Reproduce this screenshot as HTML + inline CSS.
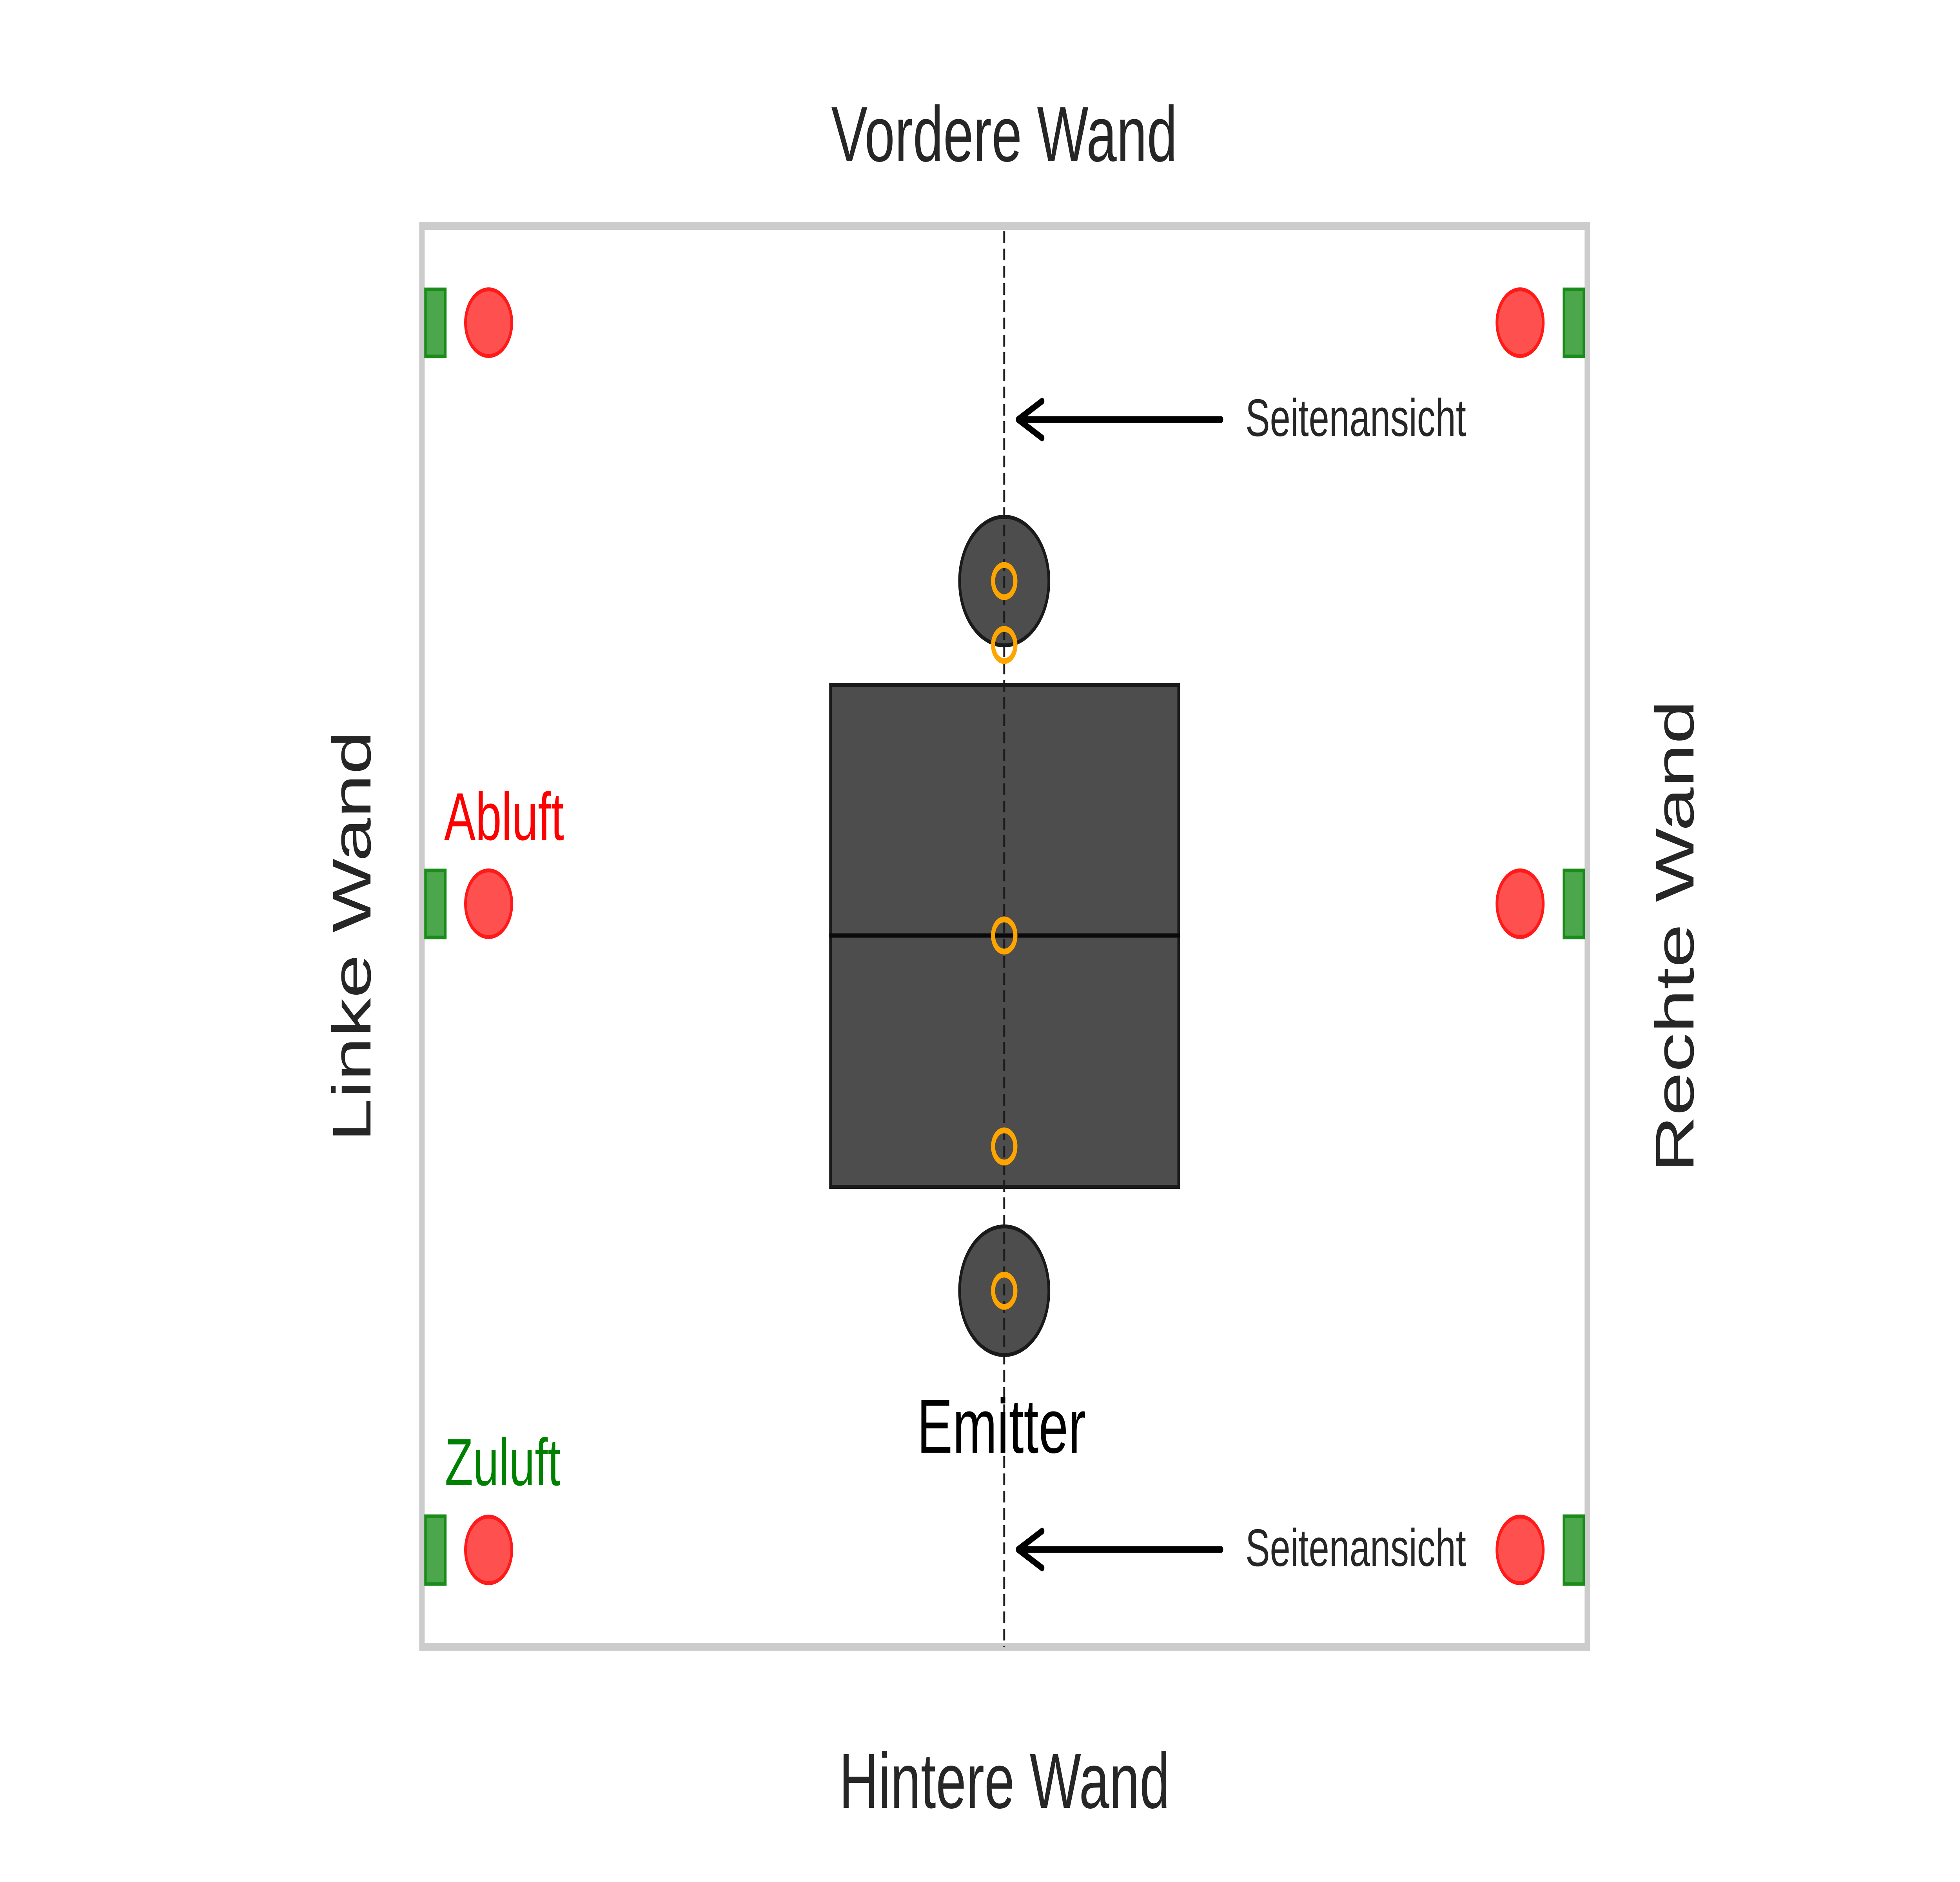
<!DOCTYPE html>
<html><head><meta charset="utf-8"><style>html,body{margin:0;padding:0;background:#fff;overflow:hidden;width:100%;height:100%}svg{display:block;width:100vw;height:100vh}</style></head>
<body>
<svg viewBox="0 0 7200 4800" preserveAspectRatio="none" xmlns="http://www.w3.org/2000/svg" font-family="Liberation Sans, Arial, sans-serif">
<rect x="0" y="0" width="7200" height="4800" fill="#fff"/>
<rect x="1550" y="576" width="4281" height="3624" fill="none" stroke="#cccccc" stroke-width="20"/>

<g fill="#4ca64c" stroke="#1a8c1a" stroke-width="9">
<rect x="1563" y="738" width="73" height="171"/>
<rect x="1563" y="2220" width="73" height="171"/>
<rect x="1563" y="3867" width="73" height="173"/>
<rect x="5745" y="738" width="73" height="171"/>
<rect x="5745" y="2220" width="73" height="171"/>
<rect x="5745" y="3867" width="73" height="173"/>
</g>
<g fill="#ff5050" stroke="#ff1a1a" stroke-width="10">
<circle cx="1795" cy="823" r="85"/>
<circle cx="1795" cy="2305" r="85"/>
<circle cx="1795" cy="3953" r="85"/>
<circle cx="5584" cy="823" r="85"/>
<circle cx="5584" cy="2305" r="85"/>
<circle cx="5584" cy="3953" r="85"/>
</g>

<circle cx="3689" cy="1482" r="164" fill="#4d4d4d" stroke="#1a1a1a" stroke-width="10"/>
<circle cx="3689" cy="3292" r="164" fill="#4d4d4d" stroke="#1a1a1a" stroke-width="10"/>
<rect x="3051" y="1747" width="1279" height="1280" fill="#4d4d4d" stroke="#1a1a1a" stroke-width="10"/>
<line x1="3046" y1="2386" x2="4335" y2="2386" stroke="#0a0a0a" stroke-width="11"/>

<line x1="3689" y1="590" x2="3689" y2="4200" stroke="#1a1a1a" stroke-width="7" stroke-dasharray="30 14"/>

<g fill="none" stroke="#ffa500" stroke-width="15">
<circle cx="3689" cy="1482" r="41"/>
<circle cx="3689" cy="1645" r="41"/>
<circle cx="3689" cy="2386" r="41"/>
<circle cx="3689" cy="2924" r="41"/>
<circle cx="3689" cy="3292" r="41"/>
</g>

<g fill="none" stroke="#000" stroke-width="17" stroke-linecap="round" stroke-linejoin="round">
<line x1="3745" y1="1070" x2="4485" y2="1070"/>
<polyline points="3828,1023 3740,1070 3828,1117"/>
<line x1="3745" y1="3952" x2="4485" y2="3952"/>
<polyline points="3828,3905 3740,3952 3828,3999"/>
</g>

<g fill="#262626">
<text x="4575" y="1112" font-size="135">Seitenansicht</text>
<text x="4575" y="3994" font-size="135">Seitenansicht</text>
<text x="3689" y="411" font-size="200" text-anchor="middle">Vordere Wand</text>
<text x="3690" y="4611" font-size="200" text-anchor="middle">Hintere Wand</text>
<text transform="translate(1361,2388) rotate(-90)" font-size="200" text-anchor="middle">Linke Wand</text>
<text transform="translate(6221,2388) rotate(-90)" font-size="200" text-anchor="middle">Rechte Wand</text>
</g>
<text x="3679" y="3705" font-size="196" text-anchor="middle" fill="#000">Emitter</text>
<text x="1632" y="2142" font-size="172" fill="#ff0000">Abluft</text>
<text x="1634" y="3788" font-size="170" fill="#008000">Zuluft</text>
</svg>
</body></html>
